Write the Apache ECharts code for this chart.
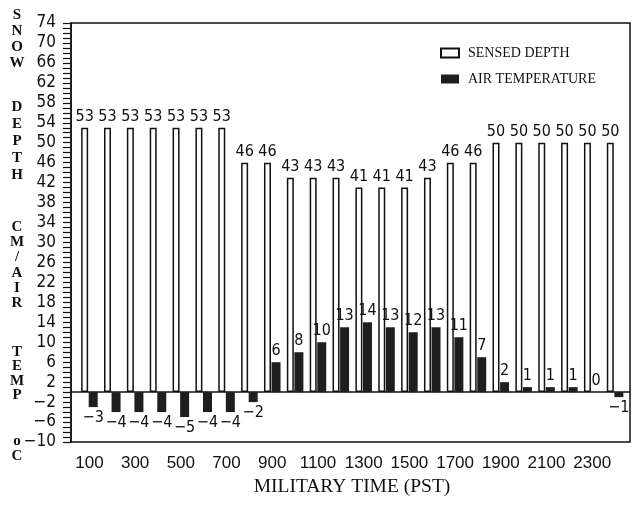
<!DOCTYPE html>
<html>
<head>
<meta charset="utf-8">
<style>html,body{margin:0;padding:0;background:#fff;}#chart{width:636px;height:512px;}</style>
<script src="https://cdn.jsdelivr.net/npm/echarts@6/dist/echarts.min.js"></script>
</head>
<body>
<div id="chart"></div>
<script>
// ---- data ----
const categories = ['100','200','300','400','500','600','700','800','900','1000','1100','1200',
                    '1300','1400','1500','1600','1700','1800','1900','2000','2100','2200','2300','2400'];
const sensedDepth = [53,53,53,53,53,53,53,46,46,43,43,43,41,41,41,43,46,46,50,50,50,50,50,50];
const airTemp     = [-3,-4,-4,-4,-5,-4,-4,-2,6,8,10,13,14,13,12,13,11,7,2,1,1,1,0,-1];
const yMin = -10, yMax = 74, yInterval = 4;

const numFont = '"Liberation Sans Narrow", "DejaVu Sans Condensed", "Liberation Sans", sans-serif';
const serifFont = '"Liberation Serif", "DejaVu Serif", serif';
const fmtMinus = v => String(v).replace('-', '\u2212');

// vertical y-axis title built letter by letter
const titleWords = [
  {t: 'SNOW',   y0: 15,  lh: 16},
  {t: 'DEPTH',  y0: 107, lh: 17},
  {t: 'CM/AIR', y0: 227, lh: 15.3},
  {t: 'TEMP',   y0: 352, lh: 14.5},
  {t: 'oC',     y0: 441, lh: 15}
];
const titleGraphics = [];
titleWords.forEach(w => {
  w.t.split('').forEach((ch, i) => {
    titleGraphics.push({
      type: 'text', x: 17, y: w.y0 + i * w.lh,
      style: {text: ch, fill: '#111', font: 'bold 15px ' + serifFont, align: 'center', verticalAlign: 'middle'}
    });
  });
});
titleGraphics.push({
  type: 'text', x: 352, y: 487,
  style: {text: 'MILITARY TIME (PST)', fill: '#111', font: '19.5px ' + serifFont, align: 'center', verticalAlign: 'middle'}
});

const tempData = airTemp.map(v => ({
  value: v,
  label: {position: v >= 0 ? 'top' : 'bottom'}
}));

const chart = echarts.init(document.getElementById('chart'), null, {renderer: 'canvas'});
chart.setOption({
  animation: false,
  backgroundColor: '#fff',
  grid: [
    {left: 71, right: 6, top: 23, bottom: 70, show: true, borderColor: '#111', borderWidth: 1.5, backgroundColor: 'transparent'},
    {left: 78, right: 9.5, top: 23, bottom: 70}
  ],
  legend: {
    orient: 'vertical', left: 435, top: 41, itemWidth: 18, itemHeight: 9, itemGap: 12,
    icon: 'rect',
    textStyle: {fontFamily: serifFont, fontSize: 14, color: '#111', padding: [0, 0, 0, 4]},
    data: ['SENSED DEPTH', 'AIR TEMPERATURE']
  },
  xAxis: [
    {gridIndex: 0, type: 'value', min: 0, max: 1,
     axisLine: {show: true, onZero: true, lineStyle: {color: '#111', width: 1.5}},
     axisTick: {show: false}, axisLabel: {show: false}, splitLine: {show: false}},
    {gridIndex: 1, type: 'category', data: categories,
     axisLine: {show: false}, axisTick: {show: false}, splitLine: {show: false},
     axisLabel: {interval: 1, margin: 13, color: '#111', fontFamily: '"Liberation Sans", sans-serif', fontSize: 17}}
  ],
  yAxis: [
    {gridIndex: 0, type: 'value', min: yMin, max: yMax, interval: yInterval,
     axisLine: {show: true, lineStyle: {color: '#111', width: 1.5}},
     axisTick: {show: true, inside: false, length: 8, lineStyle: {color: '#111', width: 1.2}},
     minorTick: {show: true, splitNumber: 4, length: 8, lineStyle: {color: '#111', width: 1.2}},
     splitLine: {show: false}, minorSplitLine: {show: false},
     axisLabel: {margin: 15, color: '#111', fontFamily: numFont, fontSize: 17, formatter: fmtMinus}},
    {gridIndex: 1, type: 'value', min: yMin, max: yMax, interval: yInterval, show: false,
     splitLine: {show: false}}
  ],
  series: [
    {name: 'SENSED DEPTH', type: 'bar', xAxisIndex: 1, yAxisIndex: 1,
     data: sensedDepth, barWidth: 7, barGap: '8%',
     itemStyle: {color: '#fff', borderColor: '#111', borderWidth: 1.5},
     label: {show: true, position: 'top', distance: 3, color: '#111', fontFamily: numFont, fontSize: 16}},
    {name: 'AIR TEMPERATURE', type: 'bar', xAxisIndex: 1, yAxisIndex: 1,
     data: tempData, barWidth: 9,
     itemStyle: {color: '#1e1e1e'},
     label: {show: true, distance: 3, color: '#111', fontFamily: numFont, fontSize: 16,
             formatter: p => fmtMinus(p.value)}}
  ],
  graphic: titleGraphics
});
</script>
</body>
</html>
